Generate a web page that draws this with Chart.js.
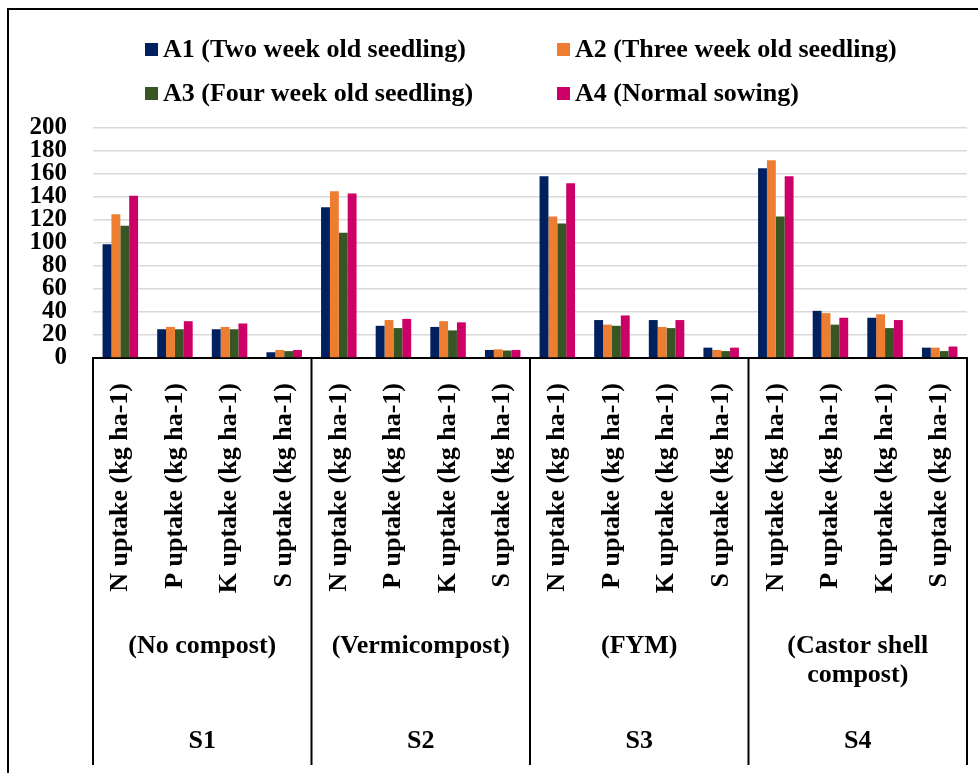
<!DOCTYPE html>
<html>
<head>
<meta charset="utf-8">
<script src="https://cdn.jsdelivr.net/npm/chart.js@4"></script>
<style>
  body { margin: 0; background: #fff; overflow: hidden; }
  #frame { position: absolute; left: 7px; top: 8px; width: 1000px; height: 800px; border-left: 2px solid #000; border-top: 2px solid #000; }
  #wrap { position: absolute; left: 0; top: 0; width: 978px; height: 773px; }
  .lg { position: absolute; font: bold 26px "Liberation Serif", "Times New Roman", serif; color: #000; white-space: nowrap; line-height: 30px; }
  .lg i { display: inline-block; width: 13px; height: 13px; margin-right: 5px; vertical-align: 1px; }
</style>
</head>
<body>
<div id="frame"></div>
<div id="wrap"><canvas id="chart" width="978" height="773"></canvas></div>
<div id="legend"></div>
<script>
// Datos
const nutrients = ['N uptake (kg ha-1)', 'P uptake (kg ha-1)', 'K uptake (kg ha-1)', 'S uptake (kg ha-1)'];
const groups = [['(No compost)'], ['(Vermicompost)'], ['(FYM)'], ['(Castor shell', 'compost)']];
const sLabels = ['S1', 'S2', 'S3', 'S4'];
const seriesNames = ['A1 (Two week old seedling)', 'A2 (Three week old seedling)', 'A3 (Four week old seedling)', 'A4 (Normal sowing)'];
const colors = ['#002060', '#ED7D31', '#375623', '#CC0066'];
const a1 = [99, 25, 25, 5, 131, 28, 27, 7, 158, 33, 33, 9, 165, 41, 35, 9];
const a2 = [125, 27, 27, 7, 145, 33, 32, 7.5, 123, 29, 27, 7, 172, 39, 38, 9];
const a3 = [115, 25, 25, 6, 109, 26, 24, 6.5, 117, 28, 26, 6, 123, 29, 26, 6];
const a4 = [141, 32, 30, 7, 143, 34, 31, 7, 152, 37, 33, 9, 158, 35, 33, 10];
const yTicks = [0, 20, 40, 60, 80, 100, 120, 140, 160, 180, 200];

const labels = [];
sLabels.forEach(() => nutrients.forEach(n => labels.push(n)));
const values = [a1, a2, a3, a4];
const serif = '"Liberation Serif", "Times New Roman", serif';
const font = { family: serif, weight: 'bold', size: 26 };

// leyenda en dos columnas
const legendPos = [[145, 34], [557, 34], [145, 78], [557, 78]];
const legend = document.getElementById('legend');
seriesNames.forEach((name, i) => {
  const d = document.createElement('div');
  d.className = 'lg';
  d.style.left = legendPos[i][0] + 'px';
  d.style.top = legendPos[i][1] + 'px';
  d.innerHTML = '<i style="background:' + colors[i] + '"></i>' + name;
  legend.appendChild(d);
});

// cajas y etiquetas de grupo debajo del eje
const groupBoxes = {
  id: 'groupBoxes',
  afterDraw(chart) {
    const x = chart.scales.x;
    const ctx = chart.ctx;
    const per = nutrients.length;
    const edges = [x.left];
    for (let g = 1; g < sLabels.length; g++) {
      edges.push((x.getPixelForValue(g * per - 1) + x.getPixelForValue(g * per)) / 2);
    }
    edges.push(x.right);
    ctx.save();
    ctx.strokeStyle = '#000';
    ctx.lineWidth = 2;
    edges.forEach(e => {
      ctx.beginPath();
      ctx.moveTo(e, x.top);
      ctx.lineTo(e, 765);
      ctx.stroke();
    });
    ctx.fillStyle = '#000';
    ctx.font = 'bold 26px ' + serif;
    ctx.textAlign = 'center';
    ctx.textBaseline = 'middle';
    for (let g = 0; g < sLabels.length; g++) {
      const cx = (edges[g] + edges[g + 1]) / 2;
      groups[g].forEach((line, k) => ctx.fillText(line, cx, 646 + k * 29));
      ctx.fillText(sLabels[g], cx, 741);
    }
    ctx.restore();
  }
};

new Chart(document.getElementById('chart').getContext('2d'), {
  type: 'bar',
  data: {
    labels: labels,
    datasets: values.map((v, i) => ({
      label: seriesNames[i],
      data: v,
      backgroundColor: colors[i],
      categoryPercentage: 0.65,
      barPercentage: 1,
    })),
  },
  options: {
    responsive: false,
    animation: false,
    layout: { padding: { top: 128, right: 11, left: 0, bottom: 0 } },
    plugins: { legend: { display: false }, tooltip: { enabled: false } },
    scales: {
      x: {
        grid: { display: false, drawTicks: false },
        border: { display: true, color: '#000', width: 2 },
        ticks: { autoSkip: false, minRotation: 90, maxRotation: 90, padding: 25, color: '#000', font: font },
        afterFit(s) { s.height = 415; s.paddingLeft = 0; s.paddingRight = 0; },
      },
      y: {
        min: 0,
        max: 200,
        afterBuildTicks(s) { s.ticks = yTicks.map(v => ({ value: v })); },
        grid: { color: '#d9d9d9', lineWidth: 1.5, drawTicks: false },
        border: { display: false },
        ticks: { autoSkip: false, padding: 26, color: '#000', font: { family: serif, weight: 'bold', size: 25 } },
        afterFit(s) { s.width = 93; s.paddingTop = 0; s.paddingBottom = 0; },
      },
    },
  },
  plugins: [groupBoxes],
});
</script>
</body>
</html>
